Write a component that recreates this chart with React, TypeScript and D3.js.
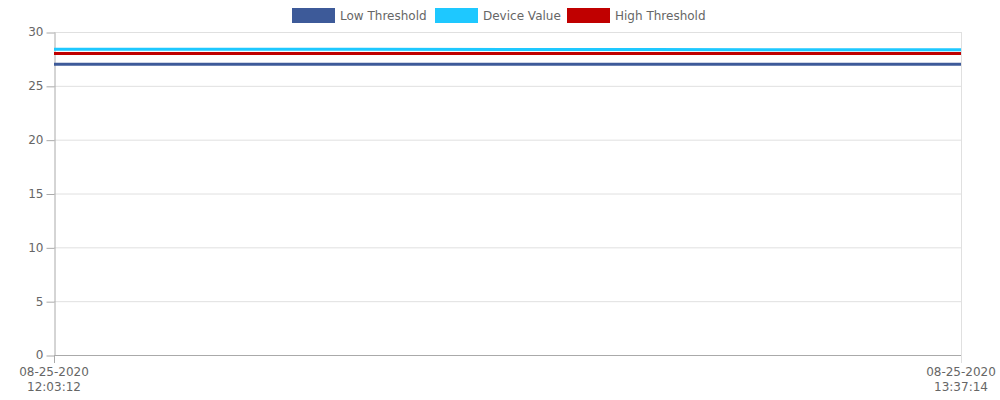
import React, { useRef, useEffect } from 'react';
import * as d3 from 'd3';

const timeLabels = ['2020-08-25T12:03:12', '2020-08-25T12:35:00', '2020-08-25T13:05:00', '2020-08-25T13:37:14'];
const lowThreshold = [27, 27, 27, 27];
const deviceValue = [28.4, 28.4, 28.37, 28.35];
const highThreshold = [28, 28, 28, 28];
const yTicks = [0, 5, 10, 15, 20, 25, 30];

const seriesNames = ['Low Threshold', 'Device Value', 'High Threshold'];
const seriesColors = ['#3d5a99', '#1ec8ff', '#c00000'];

interface Point {
    date: Date;
    value: number;
}

const App: React.FC = () => {
    const svgRef = useRef<SVGSVGElement | null>(null);

    useEffect(() => {
        if (!svgRef.current) return;
        const width = 1000;
        const height = 400;
        const margin = { top: 32, right: 39, bottom: 45, left: 54 };
        const innerWidth = width - margin.left - margin.right;
        const innerHeight = height - margin.top - margin.bottom;

        const svg = d3.select(svgRef.current);
        svg.selectAll('*').remove();

        const parse = d3.timeParse('%Y-%m-%dT%H:%M:%S');
        const dates = timeLabels.map((t) => parse(t) as Date);
        const data: Point[][] = [lowThreshold, deviceValue, highThreshold].map((vals) =>
            vals.map((v, i) => ({ date: dates[i], value: v }))
        );

        const xScale = d3
            .scaleTime()
            .domain([dates[0], dates[dates.length - 1]])
            .range([0, innerWidth]);
        const yScale = d3.scaleLinear().domain([0, 30]).range([innerHeight, 0]);

        const font = 'DejaVu Sans, sans-serif';
        const g = svg.append('g').attr('transform', `translate(${margin.left},${margin.top})`);

        // grid
        g.selectAll('.grid')
            .data(yTicks.filter((t) => t > 0))
            .enter()
            .append('line')
            .attr('x1', 0)
            .attr('x2', innerWidth)
            .attr('y1', (d) => yScale(d) + 0.5)
            .attr('y2', (d) => yScale(d) + 0.5)
            .attr('stroke', '#e0e0e0');
        g.append('line')
            .attr('x1', innerWidth + 0.5)
            .attr('x2', innerWidth + 0.5)
            .attr('y1', 0)
            .attr('y2', innerHeight + 8)
            .attr('stroke', '#e0e0e0');

        const yAxis = d3.axisLeft(yScale).tickValues(yTicks).tickSize(8).tickPadding(3).tickSizeOuter(0);
        const yg = g.append('g').attr('transform', 'translate(0.5,0)').call(yAxis);
        yg.select('.domain').attr('stroke', '#aaaaaa');
        yg.selectAll('.tick line').attr('stroke', '#aaaaaa').attr('transform', 'translate(0,0.5)');
        yg.selectAll('.tick text').attr('fill', '#666666').attr('font-size', 12).attr('font-family', font);

        g.append('line')
            .attr('x1', 0)
            .attr('x2', innerWidth)
            .attr('y1', innerHeight + 0.5)
            .attr('y2', innerHeight + 0.5)
            .attr('stroke', '#aaaaaa');
        g.append('line')
            .attr('x1', 0.5)
            .attr('x2', 0.5)
            .attr('y1', innerHeight)
            .attr('y2', innerHeight + 8)
            .attr('stroke', '#aaaaaa');

        const fmtDate = d3.timeFormat('%m-%d-%Y');
        const fmtTime = d3.timeFormat('%H:%M:%S');
        const xEnds = [dates[0], dates[dates.length - 1]];
        const xl = g
            .selectAll('.xlabel')
            .data(xEnds)
            .enter()
            .append('text')
            .attr('text-anchor', 'middle')
            .attr('fill', '#666666')
            .attr('font-size', 12)
            .attr('font-family', font)
            .attr('transform', (d) => `translate(${xScale(d)},${innerHeight + 21})`);
        xl.append('tspan').attr('x', 0).attr('y', 0).text((d) => fmtDate(d));
        xl.append('tspan').attr('x', 0).attr('y', 15).text((d) => fmtTime(d));

        const line = d3
            .line<Point>()
            .x((d) => xScale(d.date))
            .y((d) => yScale(d.value));

        data.forEach((series, i) => {
            g.append('path')
                .datum(series)
                .attr('fill', 'none')
                .attr('stroke', seriesColors[i])
                .attr('stroke-width', 3)
                .attr('d', line);
        });

        // legend
        const legendX = [292, 435, 567];
        const legend = svg.append('g');
        seriesNames.forEach((name, i) => {
            legend.append('rect')
                .attr('x', legendX[i])
                .attr('y', 8)
                .attr('width', 43)
                .attr('height', 15)
                .attr('fill', seriesColors[i]);
            legend.append('text')
                .attr('x', legendX[i] + 48)
                .attr('y', 20)
                .attr('fill', '#666666')
                .attr('font-size', 12)
                .attr('font-family', font)
                .text(name);
        });
    }, []);

    return (
        <svg
            ref={svgRef}
            width={1000}
            height={400}
            style={{ position: 'absolute', left: 0, top: 0, background: '#ffffff' }}
        />
    );
};

export default App;
